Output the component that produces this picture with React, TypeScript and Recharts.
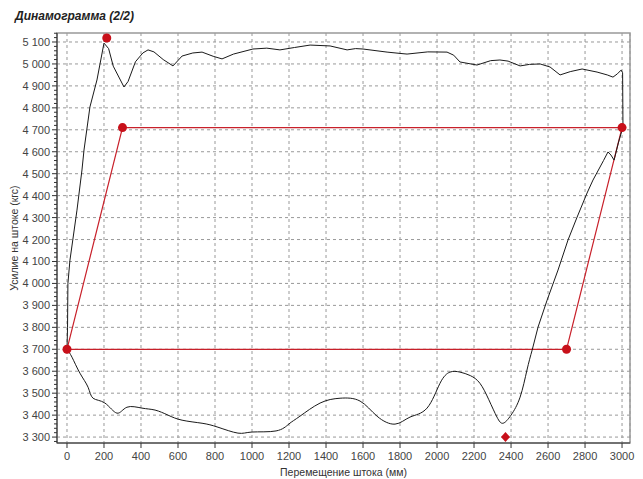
import { ComposedChart, Line, Scatter, XAxis, YAxis, ReferenceLine, ReferenceArea, CartesianGrid } from 'recharts'

const FONT = '"Liberation Sans", Arial, sans-serif'

const xTicks = [0, 200, 400, 600, 800, 1000, 1200, 1400, 1600, 1800, 2000, 2200, 2400, 2600, 2800, 3000]
const yTicks = [3300, 3400, 3500, 3600, 3700, 3800, 3900, 4000, 4100, 4200, 4300, 4400, 4500, 4600, 4700, 4800, 4900, 5000, 5100]
const X_DOMAIN = [-54, 3043]
const Y_DOMAIN = [3273, 5141]

// upstroke + top + right side of the measured loop: stroke (mm) / load (kgf)
const upperMm = [
  0, 3, 5, 16, 54, 81, 92, 124, 162, 200, 225, 250, 308, 330, 370, 410, 438, 470, 520, 573,
  622, 680, 730, 790, 838, 900, 1005, 1080, 1151, 1230, 1314, 1422, 1514, 1560, 1600, 1730, 1800, 1838, 1950, 2054,
  2090, 2124, 2216, 2290, 2340, 2384, 2449, 2500, 2557, 2611, 2665, 2720, 2784, 2865, 2920, 2951, 2975, 2995, 3003, 3005,
  2980, 2957, 2940, 2924, 2900, 2843, 2811, 2757, 2708, 2654, 2595, 2546, 2514,
]
const upperKgf = [
  3700, 3800, 4000, 4106, 4334, 4517, 4608, 4804, 4927, 5095, 5070, 4990, 4895, 4920, 5010, 5050, 5064, 5055, 5020, 4991,
  5036, 5050, 5054, 5035, 5023, 5045, 5068, 5072, 5064, 5075, 5086, 5082, 5064, 5070, 5068, 5054, 5048, 5045, 5055, 5054,
  5040, 5009, 4995, 5015, 5018, 5013, 4991, 4998, 5000, 4986, 4950, 4965, 4977, 4963, 4950, 4940, 4955, 4972, 4960, 4713,
  4640, 4562, 4585, 4599, 4560, 4471, 4412, 4302, 4198, 4061, 3924, 3801, 3696,
]

// smooth lower branch of the loop, back to the start point
const lowerMm = [
  2514, 2486, 2449, 2400, 2357, 2324, 2280, 2232, 2180, 2124, 2070, 2016, 1946, 1854, 1773, 1676, 1584, 1476, 1368, 1259,
  1200, 1130, 1000, 924, 816, 730, 622, 546, 476, 405, 324, 270, 205, 141, 114, 70, 27, 0,
]
const lowerKgf = [
  3696, 3605, 3482, 3400, 3363, 3391, 3470, 3545, 3580, 3596, 3596, 3545, 3432, 3391, 3359, 3395, 3464, 3477, 3455, 3395,
  3360, 3328, 3323, 3318, 3345, 3363, 3377, 3400, 3423, 3432, 3436, 3409, 3455, 3477, 3527, 3591, 3664, 3700,
]

// theoretical dynamogram (red parallelogram)
const quadMm = [0, 300, 3000, 2700, 0]
const quadKgf = [3700, 4710, 4710, 3700, 3700]

// red markers
const markMm = [215, 300, 3000, 0, 2700]
const markKgf = [5118, 4710, 4710, 3700, 3700]
const minMm = [2370]
const minKgf = [3300]

const upper = upperMm.map((x, i) => ({ x, y: upperKgf[i] }))
const lower = lowerMm.map((x, i) => ({ x, y: lowerKgf[i] }))
const quad = quadMm.map((x, i) => ({ x, y: quadKgf[i] }))
const marks = markMm.map((x, i) => ({ x, y: markKgf[i] }))
const minMark = minMm.map((x, i) => ({ x, y: minKgf[i] }))

const minorTicks = yTicks.flatMap((t) => [t - 20, t, t + 20, t + 40, t + 60, t + 80]).filter((t) => t >= Y_DOMAIN[0] && t <= Y_DOMAIN[1])
const allYTicks = Array.from(new Set(minorTicks)).sort((a, b) => a - b)

const TICK = 5
const GAP = 2

const fmt = (v: number) => `${Math.floor(v / 1000)} ${String(v % 1000).padStart(3, '0')}`

function YTick(props: any) {
  const { x, y, payload } = props
  const ax = x + TICK + GAP
  const major = payload.value % 100 === 0
  return (
    <g>
      <line x1={ax - (major ? TICK : 3)} x2={ax} y1={y} y2={y} stroke="#333" />
      {major && (
        <text x={x} y={y} dy={4} textAnchor="end" fontSize={11} fill="#444" fontFamily={FONT}>
          {fmt(payload.value)}
        </text>
      )}
    </g>
  )
}

const Dot = (props: any) => <circle cx={props.cx} cy={props.cy} r={4.5} fill="#c8101a" />
const Diamond = (props: any) => (
  <polygon
    points={`${props.cx},${props.cy - 5} ${props.cx + 4.5},${props.cy} ${props.cx},${props.cy + 5} ${props.cx - 4.5},${props.cy}`}
    fill="#c8101a"
  />
)

export default function App() {
  return (
    <div style={{ position: 'absolute', left: 0, top: 0, width: 643, height: 479, background: '#fff', fontFamily: FONT }}>
      <div style={{ position: 'absolute', left: 15, top: 9, fontSize: 12, fontWeight: 'bold', fontStyle: 'italic', color: '#222' }}>
        Динамограмма (2/2)
      </div>
      <ComposedChart width={643} height={479} margin={{ top: 33, right: 13, bottom: 0, left: 0 }}>
        <CartesianGrid horizontal={false} stroke="#999" strokeDasharray="3 3" />
        {yTicks.map((t) => (
          <ReferenceLine key={t} y={t} stroke="#999" strokeDasharray="3 3" />
        ))}
        <ReferenceArea x1={X_DOMAIN[0]} x2={X_DOMAIN[1]} y1={Y_DOMAIN[0]} y2={Y_DOMAIN[1]} fill="none" stroke="#999" strokeWidth={1.5} ifOverflow="visible" />
        <XAxis
          type="number"
          dataKey="x"
          domain={X_DOMAIN}
          ticks={xTicks}
          interval={0}
          allowDataOverflow
          height={36}
          tickSize={5}
          tickMargin={4}
          stroke="#333"
          tick={{ fontSize: 11, fill: '#444', fontFamily: FONT }}
          label={{ value: 'Перемещение штока (мм)', position: 'insideBottom', offset: 3, fontSize: 10.5, fill: '#333', fontFamily: FONT }}
        />
        <YAxis
          type="number"
          dataKey="y"
          domain={Y_DOMAIN}
          ticks={allYTicks}
          interval={0}
          allowDataOverflow
          width={57}
          tickSize={TICK}
          tickMargin={GAP}
          tickLine={false}
          stroke="#333"
          tick={<YTick />}
          label={{ value: 'Усилие на штоке (кгс)', angle: -90, position: 'insideLeft', offset: 14, fontSize: 10.5, fill: '#333', fontFamily: FONT, style: { textAnchor: 'middle' } }}
        />
        <Line data={quad} dataKey="y" type="linear" stroke="#c8202a" strokeWidth={1.2} dot={false} isAnimationActive={false} />
        <Line data={upper} dataKey="y" type="linear" stroke="#1a1a1a" strokeWidth={1} dot={false} isAnimationActive={false} />
        <Line data={lower} dataKey="y" type="natural" stroke="#1a1a1a" strokeWidth={1} dot={false} isAnimationActive={false} />
        <Scatter data={marks} dataKey="y" shape={<Dot />} isAnimationActive={false} />
        <Scatter data={minMark} dataKey="y" shape={<Diamond />} isAnimationActive={false} />
      </ComposedChart>
    </div>
  )
}
